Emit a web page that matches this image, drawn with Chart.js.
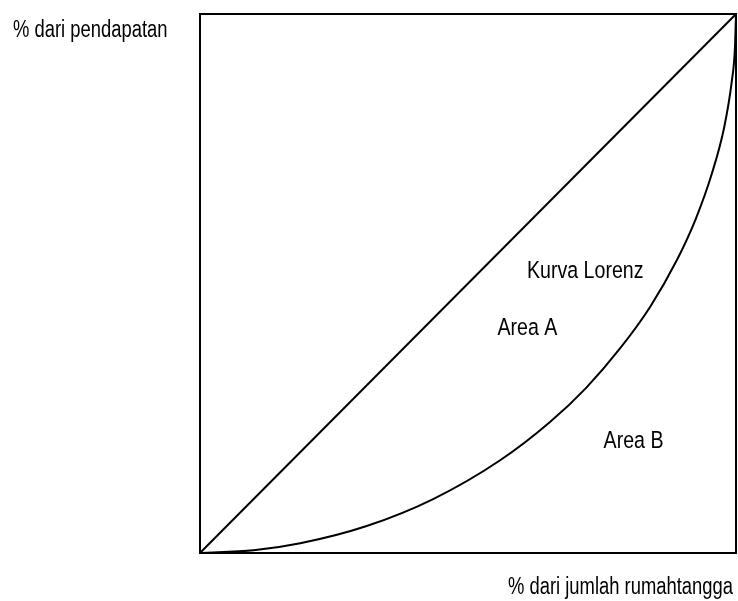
<!DOCTYPE html>
<html>
<head>
<meta charset="utf-8">
<script src="https://cdn.jsdelivr.net/npm/chart.js@4"></script>
<style>
html,body{margin:0;padding:0;background:#fff;}
canvas{display:block;}
</style>
</head>
<body>
<canvas id="c" width="738" height="601"></canvas>
<script>
// Data (percent of households vs percent of income)
const lorenzX = [0, 10, 18.7, 31.1, 43.5, 56.0, 65.3, 72.0, 78.4, 84.0, 89.0, 92.5, 95.5, 97.8, 99.2, 99.8, 100];
const lorenzY = [0, 0.5, 1.8, 5.0, 10.0, 17.2, 24.3, 30.6, 38.0, 45.7, 54.4, 62.0, 70.4, 79.0, 87.4, 93.7, 100];
const equalityX = [0, 100];
const equalityY = [0, 100];

const yAxisTitle = "% dari pendapatan";
const xAxisTitle = "% dari jumlah rumahtangga";
const annotations = [
  {text: "Kurva Lorenz", x: 61.0, y: 51.0},
  {text: "Area A", x: 55.5, y: 40.5},
  {text: "Area B", x: 75.3, y: 19.5}
];

const toPts = (xs, ys) => xs.map((x, i) => ({x: x, y: ys[i]}));

const SX = 0.8;

function drawText(ctx, str, x, y, size) {
  ctx.save();
  ctx.font = size + 'px "Liberation Sans", Arial, sans-serif';
  ctx.fillStyle = '#000';
  ctx.textAlign = 'left';
  ctx.textBaseline = 'alphabetic';
  ctx.translate(x, y);
  ctx.scale(SX, 1);
  ctx.fillText(str, 0, 0);
  ctx.restore();
}

const framePlugin = {
  id: 'frame',
  afterDatasetsDraw(chart) {
    const ctx = chart.ctx;
    const a = chart.chartArea;
    ctx.save();
    ctx.strokeStyle = '#000';
    ctx.lineWidth = 2;
    ctx.strokeRect(a.left, a.top, a.right - a.left, a.bottom - a.top);
    ctx.restore();
    const xs = chart.scales.x, ys = chart.scales.y;
    annotations.forEach(an => {
      drawText(ctx, an.text, xs.getPixelForValue(an.x), ys.getPixelForValue(an.y), 24.5);
    });
    drawText(ctx, yAxisTitle, 13, 37, 23);
    drawText(ctx, xAxisTitle, 508, 594, 23);
  }
};

new Chart(document.getElementById('c'), {
  type: 'scatter',
  data: {
    datasets: [
      {
        data: toPts(equalityX, equalityY),
        showLine: true,
        borderColor: '#000',
        borderWidth: 2,
        pointRadius: 0,
        fill: false
      },
      {
        data: toPts(lorenzX, lorenzY),
        showLine: true,
        borderColor: '#000',
        borderWidth: 2,
        pointRadius: 0,
        cubicInterpolationMode: 'monotone',
        fill: false
      }
    ]
  },
  options: {
    responsive: false,
    animation: false,
    devicePixelRatio: 1,
    layout: {padding: {left: 200, top: 14, right: 2, bottom: 48}},
    plugins: {legend: {display: false}, tooltip: {enabled: false}},
    scales: {
      x: {type: 'linear', min: 0, max: 100, display: false},
      y: {type: 'linear', min: 0, max: 100, display: false}
    }
  },
  plugins: [framePlugin]
});
</script>
</body>
</html>
